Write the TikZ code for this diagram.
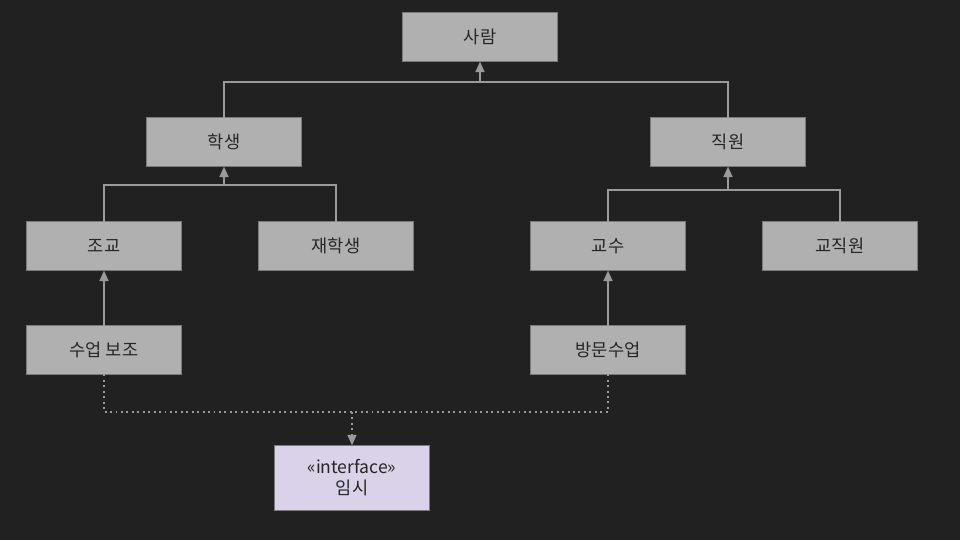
\documentclass[tikz,border=0pt]{standalone}
\usepackage{fontspec}
\setmainfont{Noto Sans CJK KR}
\usetikzlibrary{arrows.meta}
\usetikzlibrary{positioning}
\definecolor{bgdark}{HTML}{212121}
\definecolor{boxgray}{HTML}{B0B0B0}
\definecolor{linegray}{HTML}{9A9A9A}
\definecolor{ifacelilac}{HTML}{D9D2E9}
\tikzset{
% Define standard arrow tip
>={Triangle[width=5pt,length=6pt]}
}

\begin{document}
\begin{tikzpicture}[x=0.02cm, y=-0.02cm, inner sep=0, outer sep=0,
  classbox/.style={rectangle, draw=bgdark!60, fill=boxgray, text=black!85,
    minimum width=3.1cm, minimum height=0.98cm, font=\fontsize{10}{12}\selectfont},
  link/.style={draw=linegray, line width=1.1pt}]
  \fill[bgdark] (0,0) rectangle (960,540);

  \node[classbox] (person) at (480, 37) {사람};
  \node[classbox] (student) at (224, 142) {학생};
  \node[classbox] (staff) at (728, 142) {직원};
  \node[classbox] (ta) at (104, 246) {조교};
  \node[classbox] (enrolled) at (336, 246) {재학생};
  \node[classbox] (prof) at (608, 246) {교수};
  \node[classbox] (clerk) at (840, 246) {교직원};
  \node[classbox] (assist) at (104, 350) {수업 보조};
  \node[classbox] (visit) at (608, 350) {방문수업};
  \node[classbox, fill=ifacelilac, minimum height=1.3cm, align=center] (temp) at (352, 478) {<<interface>>\\임시};

  % junction points
  \coordinate (j1) at (480, 82);
  \coordinate (j2) at (224, 185);
  \coordinate (j3) at (728, 190);
  \coordinate (j4) at (352, 412);

  \draw[link] (student.north) |- (j1) -| (staff.north);
  \draw[link, ->] (j1) -- (person.south);
  \draw[link] (ta.north) |- (j2) -| (enrolled.north);
  \draw[link, ->] (j2) -- (student.south);
  \draw[link] (prof.north) |- (j3) -| (clerk.north);
  \draw[link, ->] (j3) -- (staff.south);

  \draw[link, ->] (assist.north) -- (ta.south);
  \draw[link, ->] (visit.north) -- (prof.south);

  % interface realisation
  \draw[link, dotted] (assist.south) |- (j4) -| (visit.south);
  \draw[link, dotted, ->] (j4) -- (temp.north);
\end{tikzpicture}
\end{document}
